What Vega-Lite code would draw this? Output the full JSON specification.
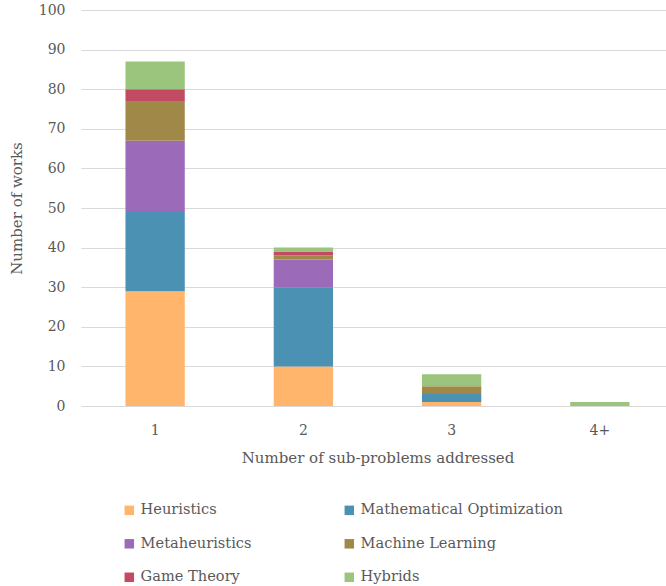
{
  "$schema": "https://vega.github.io/schema/vega-lite/v6.json",
  "width": 584,
  "height": 396,
  "autosize": {"type": "none"},
  "padding": {"left": 81, "top": 10, "right": 1, "bottom": 180},
  "background": "white",
  "config": {
    "view": {"stroke": null},
    "font": "DejaVu Serif",
    "axis": {
      "labelFont": "DejaVu Serif",
      "titleFont": "DejaVu Serif",
      "labelFontSize": 14,
      "titleFontSize": 15,
      "labelColor": "#595959",
      "titleColor": "#595959",
      "titleFontWeight": "normal",
      "gridColor": "#d9d9d9",
      "domainColor": "#d9d9d9",
      "ticks": false
    },
    "legend": {
      "labelFont": "DejaVu Serif",
      "labelFontSize": 14.6,
      "labelColor": "#595959"
    }
  },
  "data": {
    "values": [
      {"subproblems": "1", "approach": "Heuristics", "rank": 1, "works": 29},
      {"subproblems": "1", "approach": "Mathematical Optimization", "rank": 2, "works": 20},
      {"subproblems": "1", "approach": "Metaheuristics", "rank": 3, "works": 18},
      {"subproblems": "1", "approach": "Machine Learning", "rank": 4, "works": 10},
      {"subproblems": "1", "approach": "Game Theory", "rank": 5, "works": 3},
      {"subproblems": "1", "approach": "Hybrids", "rank": 6, "works": 7},
      {"subproblems": "2", "approach": "Heuristics", "rank": 1, "works": 10},
      {"subproblems": "2", "approach": "Mathematical Optimization", "rank": 2, "works": 20},
      {"subproblems": "2", "approach": "Metaheuristics", "rank": 3, "works": 7},
      {"subproblems": "2", "approach": "Machine Learning", "rank": 4, "works": 1},
      {"subproblems": "2", "approach": "Game Theory", "rank": 5, "works": 1},
      {"subproblems": "2", "approach": "Hybrids", "rank": 6, "works": 1},
      {"subproblems": "3", "approach": "Heuristics", "rank": 1, "works": 1},
      {"subproblems": "3", "approach": "Mathematical Optimization", "rank": 2, "works": 2},
      {"subproblems": "3", "approach": "Metaheuristics", "rank": 3, "works": 0},
      {"subproblems": "3", "approach": "Machine Learning", "rank": 4, "works": 2},
      {"subproblems": "3", "approach": "Game Theory", "rank": 5, "works": 0},
      {"subproblems": "3", "approach": "Hybrids", "rank": 6, "works": 3},
      {"subproblems": "4+", "approach": "Heuristics", "rank": 1, "works": 0},
      {"subproblems": "4+", "approach": "Mathematical Optimization", "rank": 2, "works": 0},
      {"subproblems": "4+", "approach": "Metaheuristics", "rank": 3, "works": 0},
      {"subproblems": "4+", "approach": "Machine Learning", "rank": 4, "works": 0},
      {"subproblems": "4+", "approach": "Game Theory", "rank": 5, "works": 0},
      {"subproblems": "4+", "approach": "Hybrids", "rank": 6, "works": 1}
    ]
  },
  "mark": {"type": "bar"},
  "encoding": {
    "x": {
      "field": "subproblems",
      "type": "nominal",
      "sort": ["1", "2", "3", "4+"],
      "scale": {"paddingInner": 0.6, "paddingOuter": 0.3, "range": [0, 593]},
      "axis": {
        "title": "Number of sub-problems addressed",
        "labelAngle": 0,
        "labelPadding": 17,
        "titlePadding": 13,
        "domain": true
      }
    },
    "y": {
      "field": "works",
      "type": "quantitative",
      "stack": "zero",
      "scale": {"domain": [0, 100], "nice": false},
      "axis": {
        "title": "Number of works",
        "values": [0, 10, 20, 30, 40, 50, 60, 70, 80, 90, 100],
        "domain": false,
        "labelPadding": 16,
        "titlePadding": 14
      }
    },
    "order": {"field": "rank", "type": "quantitative"},
    "color": {
      "field": "approach",
      "type": "nominal",
      "scale": {
        "domain": ["Heuristics", "Metaheuristics", "Game Theory", "Mathematical Optimization", "Machine Learning", "Hybrids"],
        "range": ["#FFB56C", "#9B6BBA", "#C24A62", "#4B91B4", "#A08848", "#9BC57C"]
      },
      "legend": {
        "title": null,
        "orient": "none",
        "legendX": 41,
        "legendY": 493,
        "columns": 2,
        "symbolType": "square",
        "symbolSize": 90,
        "symbolStrokeWidth": 0,
        "labelOffset": 4,
        "rowPadding": 18.5,
        "columnPadding": 90,
        "labelLimit": 300
      }
    }
  }
}
